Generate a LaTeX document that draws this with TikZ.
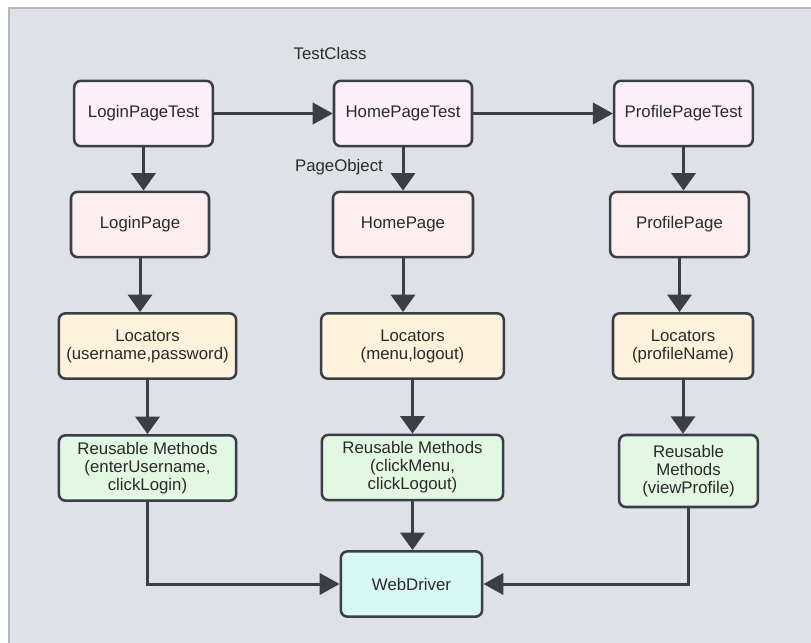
\documentclass[tikz,border=0pt]{standalone}
\usepackage{fontspec}
\setmainfont{Liberation Sans}
\usetikzlibrary{arrows.meta,calc}
\definecolor{panel}{HTML}{DEE1E6}
\definecolor{panelline}{HTML}{B4B8BE}
\definecolor{ink}{HTML}{3A3F47}
\definecolor{txt}{HTML}{2A2A2A}
\definecolor{testfill}{HTML}{FDEFFA}
\definecolor{pagefill}{HTML}{FDEFEF}
\definecolor{locfill}{HTML}{FFF2DC}
\definecolor{reufill}{HTML}{E3F8E3}
\definecolor{wdfill}{HTML}{D7F8F4}
\tikzset{
  box/.style={draw=ink, line width=1.9pt, rounded corners=5pt, align=center,
    minimum height=49pt, inner sep=0pt, text=txt,
    font=\fontsize{12.6}{13.5}\selectfont},
  testbox/.style={box, fill=testfill},
  pagebox/.style={box, fill=pagefill},
  locbox/.style={box, fill=locfill},
  reubox/.style={box, fill=reufill},
  wdbox/.style={box, fill=wdfill},
  lbl/.style={text=txt, font=\fontsize{12.6}{13.5}\selectfont, inner sep=0pt},
  conn/.style={draw=ink, line width=2.25pt, -{Triangle[length=13pt,width=18pt]}},
  hconn/.style={draw=ink, line width=2.25pt, -{Triangle[length=15pt,width=16pt]}},
}
\begin{document}
\begin{tikzpicture}[x=0.75pt,y=-0.75pt]
\useasboundingbox (0,0) rectangle (811,643);
\fill[white] (0,0) rectangle (811,643);
\fill[panel] (9,8) rectangle (812,644);
\draw[panelline, line width=1.2pt] (9,644) -- (9,8) -- (812,8);

\node[lbl] (tc) at (330,53) {TestClass};
\node[lbl] (po) at (339,167) {PageObject};

\node[testbox, minimum width=104pt] (lpt) at (143.5,113.5) {LoginPageTest};
\node[testbox, minimum width=103.5pt] (hpt) at (403,113.5) {HomePageTest};
\node[testbox, minimum width=104pt] (ppt) at (683.5,113.5) {ProfilePageTest};

\node[pagebox, minimum width=103.5pt] (lp) at (140,224.5) {LoginPage};
\node[pagebox, minimum width=105pt] (hp) at (403,224.5) {HomePage};
\node[pagebox, minimum width=104pt] (pp) at (679.5,224.5) {ProfilePage};

\node[locbox, minimum width=133pt] (l1) at (147.5,346) {Locators\\(username,password)};
\node[locbox, minimum width=137pt] (l2) at (412.5,346) {Locators\\(menu,logout)};
\node[locbox, minimum width=105pt] (l3) at (683,346) {Locators\\(profileName)};

\node[reubox, minimum width=133pt] (r1) at (147.5,468) {Reusable Methods\\(enterUsername,\\clickLogin)};
\node[reubox, minimum width=136pt] (r2) at (412.5,467.5) {Reusable Methods\\(clickMenu,\\clickLogout)};
\node[reubox, minimum width=104pt, minimum height=54pt] (r3) at (688.5,471) {Reusable\\Methods\\(viewProfile)};

\node[wdbox, minimum width=106pt] (wd) at (411.5,584) {WebDriver};

\draw[hconn] (lpt.east) -- (hpt.west);
\draw[hconn] (hpt.east) -- (ppt.west);

\draw[conn] (lpt.south) -- (lpt.south |- lp.north);
\draw[conn] (hpt.south) -- (hpt.south |- hp.north);
\draw[conn] (ppt.south) -- (ppt.south |- pp.north);

\draw[conn] (lp.south) -- (lp.south |- l1.north);
\draw[conn] (hp.south) -- (hp.south |- l2.north);
\draw[conn] (pp.south) -- (pp.south |- l3.north);

\draw[conn] (l1.south) -- (l1.south |- r1.north);
\draw[conn] (l2.south) -- (l2.south |- r2.north);
\draw[conn] (l3.south) -- (l3.south |- r3.north);

\draw[hconn] (r1.south) |- (wd.west);
\draw[conn] (r2.south) -- (r2.south |- wd.north);
\draw[hconn] (r3.south) |- (wd.east);
\end{tikzpicture}
\end{document}
